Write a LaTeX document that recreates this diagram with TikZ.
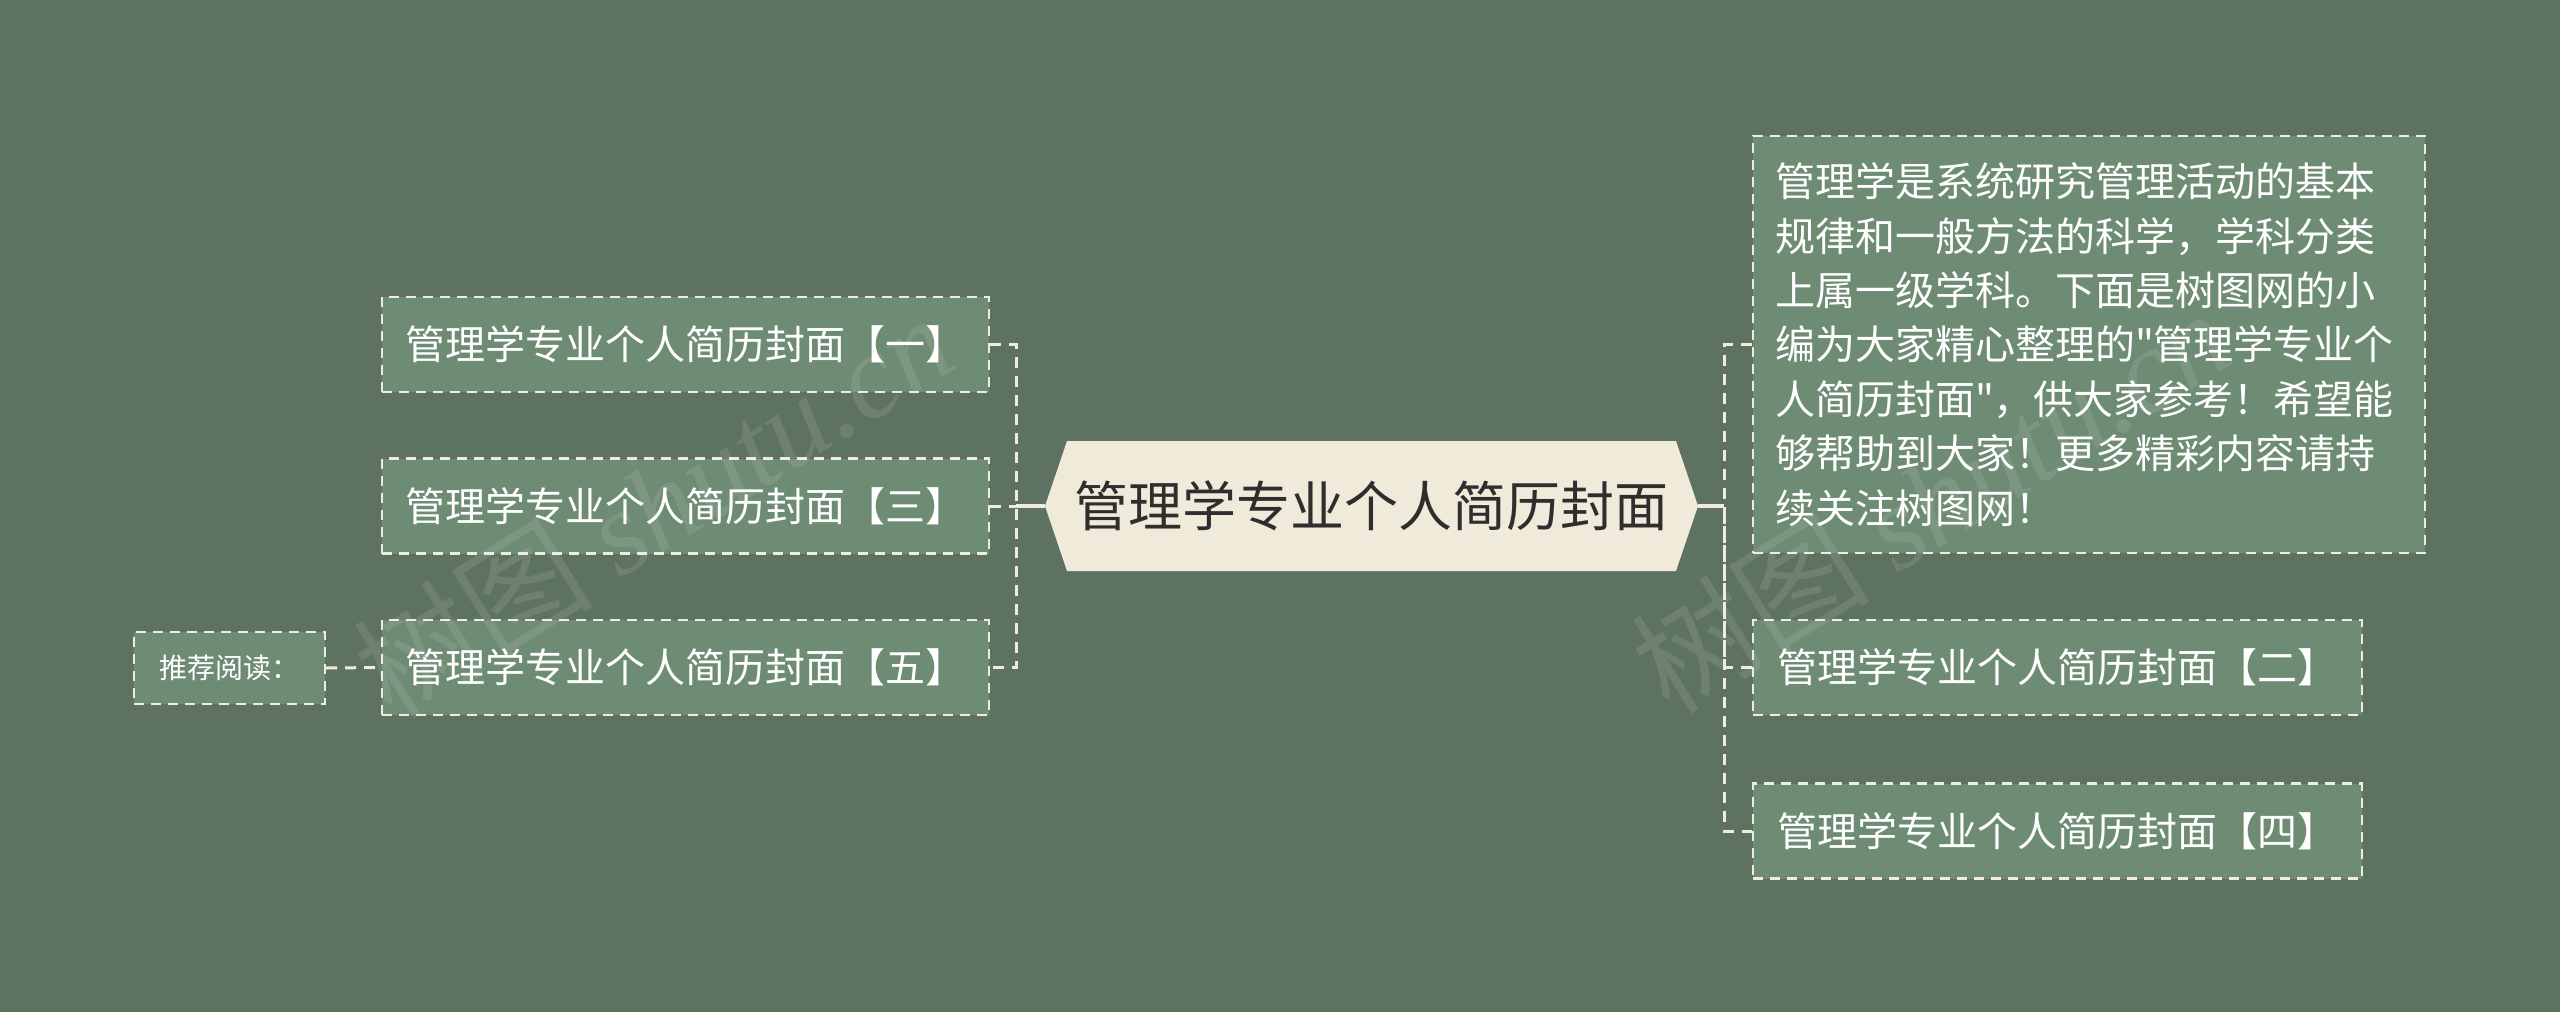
\documentclass[tikz,border=0pt]{standalone}
\usepackage{fontspec}
\setmainfont{Noto Sans CJK SC}[Ligatures=TeXOff]
\newfontfamily\wmlatin{Liberation Serif}
\definecolor{bgc}{HTML}{5E7262}
\definecolor{nodefill}{HTML}{6E8B74}
\definecolor{linec}{HTML}{F0ECDC}
\definecolor{hexfill}{HTML}{EFEAD9}
\definecolor{hextext}{HTML}{2E2E2E}
\tikzset{
  leaf/.style={draw=linec, fill=nodefill, dash pattern=on 10pt off 7pt, line width=2.2pt,
    text=white, minimum height=95pt, minimum width=607pt, inner sep=0pt,
    font=\fontsize{40}{48}\selectfont},
  dlink/.style={draw=linec, line width=3pt, dash pattern=on 11pt off 8pt},
  solidlink/.style={draw=linec, line width=4.5pt},
  wm/.style={text=white, opacity=0.10, rotate=32, font=\fontsize{120}{120}\selectfont}
}
\begin{document}
\begin{tikzpicture}[x=1pt,y=-1pt]
\fill[bgc] (0,0) rectangle (2560,1012);
\useasboundingbox (0,0) rectangle (2560,1012);

% central hexagon
\coordinate (hl) at (1045,506);
\coordinate (hr) at (1698,506);
\fill[hexfill] (hl) -- (1067,441) -- (1676,441) -- (hr) -- (1676,571) -- (1067,571) -- cycle;
\node[text=hextext, font=\fontsize{54}{60}\selectfont, inner sep=0pt] (c) at (1371.5,506) {管理学专业个人简历封面};

% left branch
\node[leaf] (n1) at (685.5,344.5) {管理学专业个人简历封面【一】};
\node[leaf] (n3) at (685.5,506) {管理学专业个人简历封面【三】};
\node[leaf] (n5) at (685.5,667.5) {管理学专业个人简历封面【五】};
\node[leaf, minimum width=191pt, minimum height=72pt, font=\fontsize{28}{32}\selectfont] (rec) at (229.5,668) {推荐阅读：};

% right branch
\node[leaf, minimum width=672pt, minimum height=417pt, text width=628pt, inner xsep=22pt, align=left,
  font=\fontsize{40}{54.4}\selectfont] (r0) at (2089,344.5) {管理学是系统研究管理活动的基本\\
规律和一般方法的科学，学科分类\\
上属一级学科。下面是树图网的小\\
编为大家精心整理的"管理学专业个\\
人简历封面"，供大家参考！希望能\\
够帮助到大家！更多精彩内容请持\\
续关注树图网！};
\node[leaf, minimum width=609pt] (r2) at (2057.5,667.5) {管理学专业个人简历封面【二】};
\node[leaf, minimum width=609pt] (r4) at (2057.5,831) {管理学专业个人简历封面【四】};

% connectors
\coordinate (sl) at (1016,506);
\coordinate (sr) at (1724,506);
\draw[solidlink] (hl) -- (sl);
\draw[solidlink] (hr) -- (sr);
\draw[dlink] (n1.east) -| (sl) |- (n5.east);
\draw[dlink] (n3.east) -- (sl);
\draw[dlink] (r0.west) -| (sr) |- (r4.west);
\draw[dlink] (r2.west) -| (sr);
\draw[dlink] (rec.east) -- (n5.west);

% watermarks
\node[wm] (wm1) at (653,505) {树图 {\wmlatin\itshape shutu.cn}};
\node[wm] (wm2) at (1930,500) {树图 {\wmlatin\itshape shutu.cn}};
\end{tikzpicture}
\end{document}
